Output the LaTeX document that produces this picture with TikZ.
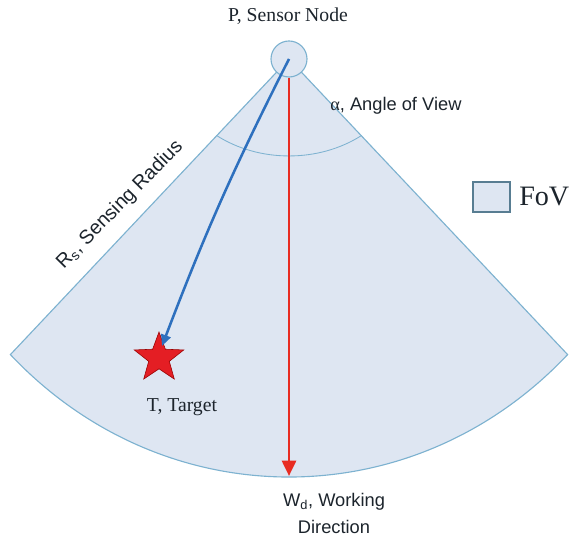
\documentclass[tikz,border=0pt]{standalone}
\usepackage{fontspec}
\setmainfont{Liberation Serif}
\setsansfont{Liberation Sans}
\usetikzlibrary{arrows.meta,shapes.geometric}
\definecolor{fovfill}{RGB}{222,230,242}
\definecolor{fovedge}{RGB}{125,178,208}
\definecolor{rayblue}{RGB}{46,112,190}
\definecolor{rayred}{RGB}{232,44,34}
\definecolor{starred}{RGB}{228,30,36}
\definecolor{txt}{RGB}{28,36,44}
\begin{document}
\begin{tikzpicture}[x=0.025cm,y=0.025cm,
  seriflabel/.style={text=txt,font=\fontsize{14}{16}\selectfont,inner sep=0pt},
  sanslabel/.style={text=txt,font=\sffamily\fontsize{13}{15}\selectfont,inner sep=0pt}]
\useasboundingbox (0,0) rectangle (571,536);
\coordinate (P) at (289,477);
\draw[fovedge,fill=fovfill,line width=0.8pt] (P) -- ++(-278.6,-295.6) arc[start angle=225,end angle=315,x radius=394,y radius=418] -- cycle;
\draw[fovedge,line width=0.6pt] (P) ++(-72.6,-76.4) arc[start angle=232,end angle=308,x radius=118,y radius=97];
\node[circle,draw=fovedge,fill=fovfill,line width=0.8pt,minimum size=0.9cm,inner sep=0pt] (sensor) at (P) {};
\node[star,star points=5,star point ratio=2.4,fill=starred,draw=red!60!black,minimum size=1.3cm,inner sep=0pt] (target) at (159,178) {};
\coordinate (hit) at (162,190);
\coordinate (wd) at (289,60);
\draw[rayblue,line width=1.8pt,-{Triangle[length=8pt,width=7pt]}] (P) to[bend right=3] (hit);
\draw[rayred,line width=2.1pt,-{Triangle[length=11pt,width=10pt]}] (sensor.south) -- (wd);
\node[seriflabel] (plabel) at (288,520) {P, Sensor Node};
\node[sanslabel,anchor=west] (alabel) at (330,430) {{\rmfamily α}, Angle of View};
\node[sanslabel,font=\sffamily\fontsize{14}{16}\selectfont,rotate=45.5] (rlabel) at (120,331) {R\textsubscript{s}, Sensing Radius};
\node[draw=fovedge!70!black,fill=fovfill,line width=0.8pt,minimum width=0.925cm,minimum height=0.75cm,inner sep=0pt] (fovkey) at (491.5,339) {};
\node[seriflabel,font=\fontsize{20}{22}\selectfont,anchor=west] (fovtext) at (519,339) {FoV};
\node[seriflabel] (tlabel) at (182,129) {T, Target};
\node[sanslabel,font=\sffamily\fontsize{13}{19.2}\selectfont,align=center] (wlabel) at (334,22.5) {W\textsubscript{d}, Working\\Direction};
\end{tikzpicture}
\end{document}
